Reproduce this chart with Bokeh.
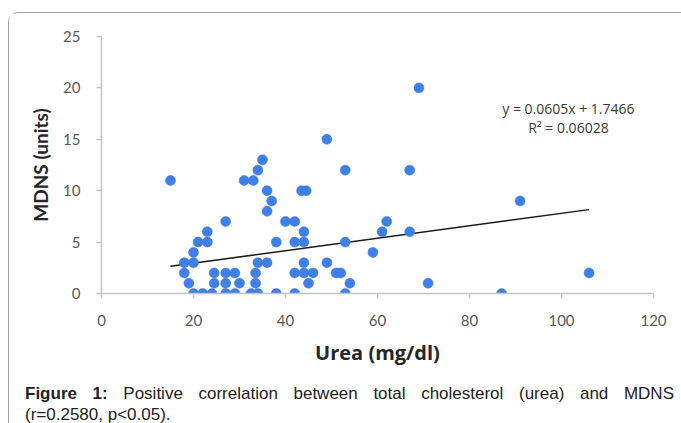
from bokeh.plotting import figure
from bokeh.models import Label, Div, Range1d
from bokeh.layouts import column
from bokeh.embed import file_html
from bokeh.resources import INLINE

# ---- data ----
urea = [15, 35, 34, 31, 33, 36, 37, 36, 27, 40,
        42, 23, 21, 23, 20, 18, 20, 18, 19, 20,
        22, 24, 27, 29, 32.5, 34, 24.5, 27, 29, 24.5,
        27, 30, 34, 36, 33.5, 33.5, 38, 38, 42, 53,
        42, 44, 44, 53, 44, 49, 42, 44, 46, 51,
        52, 45, 54, 69, 49, 53, 67, 43.5, 44.5, 62,
        61, 67, 59, 71, 91, 106, 87]
mdns = [11, 13, 12, 11, 11, 10, 9, 8, 7, 7,
        7, 6, 5, 5, 4, 3, 3, 2, 1, 0,
        0, 0, 0, 0, 0, 0, 2, 2, 2, 1,
        1, 1, 3, 3, 2, 1, 5, 0, 0, 0,
        5, 5, 6, 5, 3, 3, 2, 2, 2, 2,
        2, 1, 1, 20, 15, 12, 12, 10, 10, 7,
        6, 6, 4, 1, 9, 2, 0]
slope = 0.0605
intercept = 1.7466
r_squared = "0.06028"
x_ticks = [0, 20, 40, 60, 80, 100, 120]
y_ticks = [0, 5, 10, 15, 20, 25]

TICK_FONT = "Lato"
p = figure(width=672, height=365, output_backend="svg", toolbar_location=None,
           x_range=Range1d(0, 120), y_range=Range1d(0, 25),
           min_border_left=92, min_border_right=28, min_border_top=23,
           min_border_bottom=85)
p.grid.visible = False
p.outline_line_color = None
p.background_fill_color = "white"
p.border_fill_color = "white"

for ax in (p.xaxis[0], p.yaxis[0]):
    ax.axis_line_color = "#c4c4c4"
    ax.axis_line_width = 1.5
    ax.major_tick_line_color = "#c4c4c4"
    ax.major_tick_line_width = 1.5
    ax.major_tick_in = 0
    ax.major_tick_out = 5
    ax.minor_tick_line_color = None
    ax.major_label_text_font = TICK_FONT
    ax.major_label_text_font_size = "15px"
    ax.major_label_text_color = "#595959"
    ax.axis_label_text_font_style = "bold"
    ax.axis_label_text_color = "#262626"

p.yaxis.axis_label_text_font = "Lato"
p.yaxis.axis_label_text_font_size = "19px"
p.xaxis.axis_label_text_font = "Open Sans"
p.xaxis.axis_label_text_font_size = "20px"

p.xaxis.ticker = x_ticks
p.yaxis.ticker = y_ticks
p.xaxis.axis_label = "Urea (mg/dl)"
p.yaxis.axis_label = "MDNS (units)"
p.xaxis.major_label_standoff = 16
p.xaxis.axis_label_standoff = 10
p.yaxis.major_label_standoff = 16
p.yaxis.axis_label_standoff = 8

# trend line over data extent
x0, x1 = min(urea), max(urea)
p.line([x0, x1], [slope * x0 + intercept, slope * x1 + intercept],
       line_color="#1a1a1a", line_width=1.5)

p.scatter(urea, mdns, size=10, fill_color="#3f80e8", line_color="#3a76d6",
          line_width=0.5)

eq1 = Label(x=101.5, y=17.95, text=f"y = {slope}x + {intercept}",
            text_align="center", text_baseline="middle",
            text_font="Open Sans", text_font_size="14px", text_color="#3a3a3a")
eq2 = Label(x=101.5, y=16.1, text=f"R\u00b2 = {r_squared}",
            text_align="center", text_baseline="middle",
            text_font="Open Sans", text_font_size="14px", text_color="#3a3a3a")
p.add_layout(eq1)
p.add_layout(eq2)

caption = (
    '<div style="font-family:\'Liberation Sans\',Arial,sans-serif;font-size:17px;'
    'line-height:21px;color:#222;width:649px;margin-left:11px;">'
    '<div style="width:649px;text-align:justify;text-align-last:justify;">'
    '<b>Figure 1:</b> Positive correlation between total cholesterol (urea) and MDNS</div>'
    '<div>(r=0.2580, p&lt;0.05).</div></div>'
)
div = Div(text=caption, width=672, height=44)

layout = column(p, div, styles={
    "border-top": "1px solid #a0a0a0",
    "border-left": "1px solid #a0a0a0",
    "border-top-left-radius": "10px",
    "margin-top": "12px",
    "margin-left": "8px",
})

open("out.html", "w").write(file_html(layout, INLINE))
